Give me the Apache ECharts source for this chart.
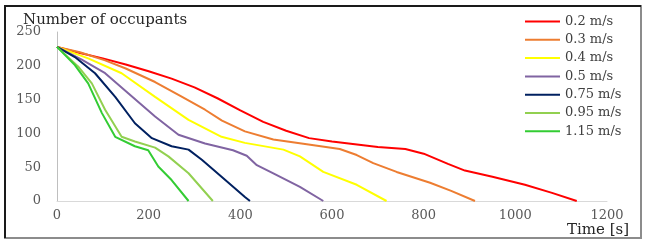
<!DOCTYPE html>
<html>
<head>
<meta charset="utf-8">
<script src="https://cdn.jsdelivr.net/npm/echarts@6/dist/echarts.min.js"></script>
<style>
html, body { margin: 0; padding: 0; background: #fff; }
#main { width: 650px; height: 244px; }
</style>
</head>
<body>
<div id="main"></div>
<script>
// speeds (legend names) and series colours
var speeds = ['0.2 m/s', '0.3 m/s', '0.4 m/s', '0.5 m/s', '0.75 m/s', '0.95 m/s', '1.15 m/s'];
var colors = ['#ff0000', '#ed7d31', '#ffff00', '#8064a2', '#002060', '#92d050', '#33cc33'];

// [time s, occupants]
var v02 = [[0,228],[50,219],[100,211],[150,202],[200,192],[250,181],[300,168],[350,152],[400,134],[450,117],[500,104],[550,93],[600,88],[650,84],[700,80],[760,77],[800,70],[853,55],[890,45],[950,36],[1021,24],[1080,12],[1134,0]];
var v03 = [[0,228],[50,220],[105,208],[150,196],[214,176],[270,155],[323,135],[360,119],[410,103],[472,91],[545,84],[617,77],[654,68],[690,56],[741,43],[814,27],[860,15],[912,0]];
var v04 = [[0,228],[68,211],[141,189],[214,154],[287,120],[359,95],[410,86],[494,76],[530,66],[581,43],[654,24],[719,0]];
var v05 = [[0,228],[54,209],[105,189],[156,159],[214,125],[265,98],[323,85],[384,75],[414,67],[436,53],[472,41],[530,21],[581,0]];
var v075 = [[0,228],[39,213],[83,189],[127,154],[170,115],[207,93],[250,81],[287,76],[316,61],[359,36],[410,6],[421,0]];
var v095 = [[0,228],[46,199],[76,174],[105,135],[141,95],[170,88],[214,79],[243,66],[287,41],[340,0]];
var v115 = [[0,228],[39,201],[68,174],[98,130],[127,95],[170,81],[199,75],[221,51],[250,31],[287,0]];
var allData = [v02, v03, v04, v05, v075, v095, v115];

var font = 'DejaVu Serif';
var myChart = echarts.init(document.getElementById('main'));

var series = [];
for (var i = 0; i < speeds.length; i++) {
    series.push({
        name: speeds[i],
        type: 'line',
        symbol: 'none',
        data: allData[i],
        lineStyle: { width: 2, color: colors[i] },
        itemStyle: { color: colors[i] }
    });
}

var option = {
    animation: false,
    title: [
        {
            text: 'Number of occupants',
            left: 18, top: 8,
            textStyle: { fontFamily: font, fontSize: 15, fontWeight: 'normal', color: '#262626' }
        },
        {
            text: 'Time [s]',
            left: 562, top: 218,
            textStyle: { fontFamily: font, fontSize: 15, fontWeight: 'normal', color: '#262626' }
        }
    ],
    legend: {
        orient: 'vertical',
        left: 520, top: 10,
        icon: 'rect',
        itemWidth: 35, itemHeight: 2, itemGap: 5.3,
        data: speeds,
        textStyle: { fontFamily: font, fontSize: 13, color: '#404040', lineHeight: 12 }
    },
    grid: { left: 57, right: 43, top: 32, bottom: 43, outerBoundsMode: 'none' },
    xAxis: {
        type: 'value',
        min: 0, max: 1200, interval: 200,
        axisLine: { lineStyle: { color: '#d9d9d9' } },
        axisTick: { show: false },
        splitLine: { show: false },
        axisLabel: { fontFamily: font, fontSize: 13, color: '#595959', margin: 8, formatter: function (v) { return String(v); } }
    },
    yAxis: {
        type: 'value',
        min: 0, max: 250, interval: 50,
        axisLine: { show: true, lineStyle: { color: '#bfbfbf' } },
        axisTick: { show: false },
        splitLine: { show: false },
        axisLabel: { fontFamily: font, fontSize: 13, color: '#595959', margin: 16 }
    },
    graphic: [
        { type: 'rect', shape: { x: 5, y: 6, width: 636, height: 232 }, style: { fill: 'none', stroke: '#8c8c8c', lineWidth: 2 }, silent: true },
        { type: 'polyline', shape: { points: [[5, 238], [5, 6], [641, 6]] }, style: { fill: 'none', stroke: '#1a1a1a', lineWidth: 2 }, silent: true }
    ],
    series: series
};

myChart.setOption(option);
</script>
</body>
</html>
